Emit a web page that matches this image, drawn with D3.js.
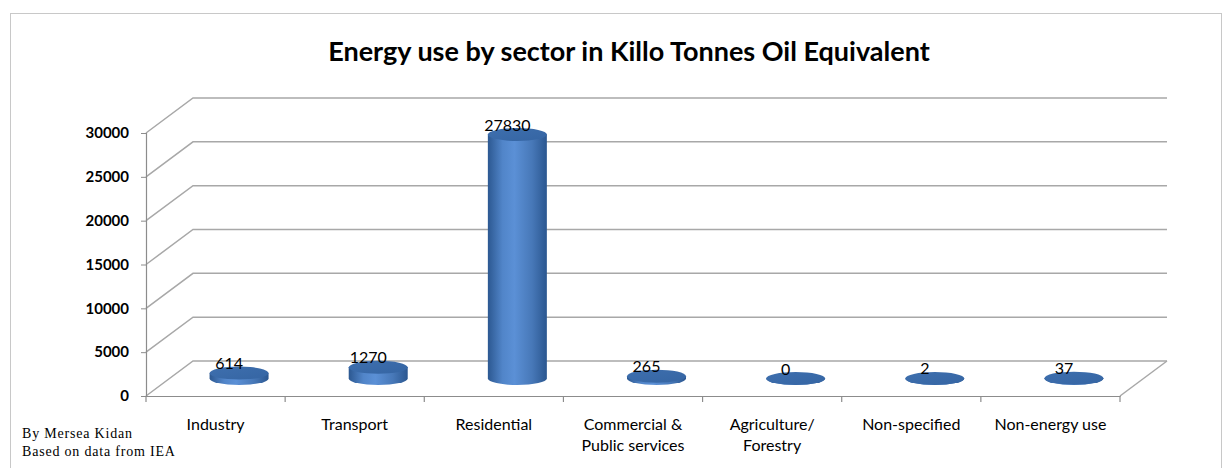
<!DOCTYPE html>
<html>
<head>
<meta charset="utf-8">
<script src="https://cdn.jsdelivr.net/npm/d3@7"></script>
<style>
  html, body { margin: 0; padding: 0; background: #ffffff; }
  svg { display: block; }
</style>
</head>
<body>
<svg id="chart" width="1232" height="468"></svg>
<script>
// ---- data ----
const categories = ["Industry", "Transport", "Residential", "Commercial &\nPublic services", "Agriculture/\nForestry", "Non-specified", "Non-energy use"];
const values = [614, 1270, 27830, 265, 0, 2, 37];
const yTicks = [0, 5000, 10000, 15000, 20000, 25000, 30000];
const titleText = "Energy use by sector in Killo Tonnes Oil Equivalent";
const footerLines = ["By Mersea Kidan", "Based on data from IEA"];

// ---- layout ----
const plotLeft = 146, plotRight = 1120, plotBottom = 396, plotTop = 133;
const depthX = 47, depthY = -35;
const rx = 29.5, ry = 6.5;

const svg = d3.select("#chart");

const x = d3.scaleBand().domain(categories).range([plotLeft, plotRight]).padding(0);
const y = d3.scaleLinear().domain([0, 30000]).range([plotBottom, plotTop]);

// gradients
const defs = svg.append("defs");
const gBody = defs.append("linearGradient").attr("id", "body").attr("x1", "0%").attr("x2", "100%").attr("y1", "0%").attr("y2", "0%");
[["0%", "#2c5891"], ["25%", "#5185c9"], ["45%", "#5b90d6"], ["75%", "#4778b8"], ["100%", "#2b5790"]]
  .forEach(([o, c]) => gBody.append("stop").attr("offset", o).attr("stop-color", c));
const gTop = defs.append("linearGradient").attr("id", "cap").attr("x1", "0%").attr("x2", "100%").attr("y1", "0%").attr("y2", "100%");
[["0%", "#3e6fae"], ["100%", "#3565a3"]]
  .forEach(([o, c]) => gTop.append("stop").attr("offset", o).attr("stop-color", c));

// outer border
svg.append("rect").attr("x", 10.5).attr("y", 13.5).attr("width", 1211).attr("height", 470)
  .attr("fill", "none").attr("stroke", "#c8c8c8").attr("stroke-width", 1);

// title
svg.append("text").attr("x", 629).attr("y", 61).attr("text-anchor", "middle")
  .attr("font-family", "Lato, 'Open Sans', sans-serif").attr("font-weight", "bold")
  .attr("font-size", 27).attr("fill", "#000").text(titleText);

// gridlines: left wall diagonal + back wall horizontal
const grid = svg.append("g").attr("fill", "none").attr("stroke", "#a8a8a8").attr("stroke-width", 1.5);
yTicks.forEach(t => {
  const yy = y(t);
  grid.append("path").attr("d", `M${plotLeft},${yy} L${plotLeft + depthX},${yy + depthY} L${plotRight + depthX},${yy + depthY}`);
});
// floor right edge
grid.append("line").attr("x1", plotRight).attr("y1", plotBottom).attr("x2", plotRight + depthX).attr("y2", plotBottom + depthY);

// y axis
const yAxis = svg.append("g").attr("transform", `translate(${plotLeft},0)`)
  .call(d3.axisLeft(y).tickValues(yTicks).tickSize(5).tickPadding(12).tickFormat(d3.format("d")));
yAxis.select(".domain").attr("stroke", "#8c8c8c").attr("stroke-width", 1.2);
yAxis.selectAll(".tick line").attr("stroke", "#8c8c8c");
yAxis.selectAll(".tick text").attr("font-family", "Lato, sans-serif").attr("font-weight", "bold")
  .attr("font-size", 15).attr("fill", "#000");

// x axis (front floor edge)
const xAxis = svg.append("g").attr("transform", `translate(0,${plotBottom})`)
  .call(d3.axisBottom(x).tickSize(0).tickFormat(""));
xAxis.select(".domain").attr("stroke", "#8c8c8c").attr("stroke-width", 1.2);
const boundaries = categories.map(c => x(c)).concat([plotRight]);
svg.append("g").selectAll("line").data(boundaries).join("line")
  .attr("x1", d => d).attr("x2", d => d).attr("y1", plotBottom).attr("y2", plotBottom + 6)
  .attr("stroke", "#8c8c8c").attr("stroke-width", 1.2);

// category labels
const catG = svg.append("g").attr("font-family", "Lato, sans-serif").attr("font-size", 16).attr("fill", "#000");
categories.forEach(c => {
  const lines = c.split("\n");
  const cxl = x(c) + x.bandwidth() / 2;
  const t = catG.append("text").attr("x", cxl).attr("y", 430).attr("text-anchor", "middle");
  lines.forEach((ln, i) => t.append("tspan").attr("x", cxl).attr("dy", i === 0 ? 0 : 21).text(ln));
});

// cylinders (placed at mid depth)
const bars = svg.append("g");
categories.forEach((c, i) => {
  const v = values[i];
  const cx = x(c) + x.bandwidth() / 2 + depthX / 2;
  const base = y(0) + depthY / 2;
  const topY = y(v) + depthY / 2;
  bars.append("path")
    .attr("d", `M${cx - rx},${topY} L${cx - rx},${base} A${rx},${ry} 0 0 0 ${cx + rx},${base} L${cx + rx},${topY} Z`)
    .attr("fill", "url(#body)");
  bars.append("ellipse").attr("cx", cx).attr("cy", topY).attr("rx", rx).attr("ry", ry)
    .attr("fill", "url(#cap)");
  bars.append("text").attr("x", cx - 10).attr("y", topY - 4).attr("text-anchor", "middle")
    .attr("font-family", "Lato, sans-serif").attr("font-size", 16).attr("fill", "#000")
    .text(v);
});

// footer
const foot = svg.append("g").attr("font-family", "'Liberation Serif', serif").attr("font-size", 14)
  .attr("letter-spacing", 0.8).attr("fill", "#000");
footerLines.forEach((ln, i) => foot.append("text").attr("x", 22).attr("y", 438 + i * 18).text(ln));
</script>
</body>
</html>
